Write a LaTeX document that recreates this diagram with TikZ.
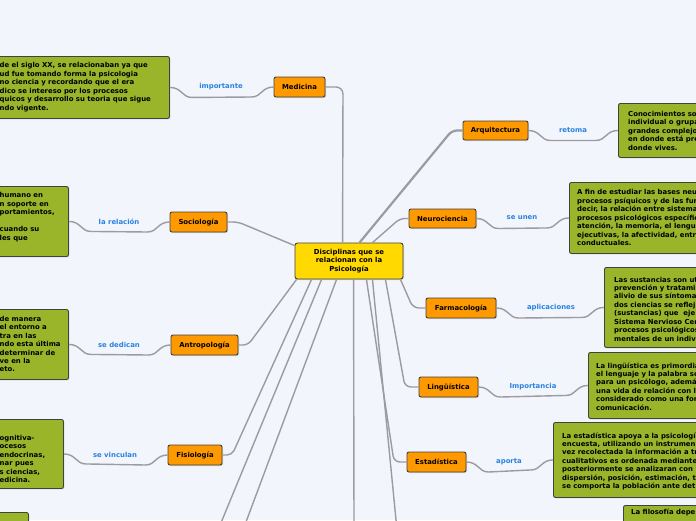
\documentclass[tikz,border=0pt]{standalone}
\usepackage{fontspec}
\setmainfont{DejaVu Sans}
\usetikzlibrary{calc,shadows}
\definecolor{bgcol}{RGB}{242,245,252}
\definecolor{conncol}{RGB}{155,155,160}
\definecolor{orangecol}{RGB}{255,153,0}
\definecolor{greencol}{RGB}{154,181,42}
\definecolor{yellowcol}{RGB}{255,217,0}
\definecolor{bordercol}{RGB}{65,65,65}
\definecolor{labelcol}{RGB}{40,130,225}
\newcommand\dfont{\fontsize{6.9}{8.4}\selectfont\bfseries}
\tikzset{
  shad/.style={drop shadow={shadow xshift=1pt,shadow yshift=-1pt,opacity=0.3}},
  onode/.style={draw=bordercol, line width=0.9pt, fill=orangecol, rounded corners=2pt, inner sep=0pt, font=\dfont, shad},
  cnode/.style={draw=bordercol, line width=0.9pt, fill=yellowcol, rounded corners=2.5pt, inner sep=0pt, align=center, font=\dfont, shad},
  gbox/.style={draw=bordercol, line width=0.9pt, fill=greencol, rounded corners=2pt, inner sep=0pt, anchor=north west, shad},
  gtext/.style={anchor=base west, inner sep=0pt, font=\dfont},
  lbl/.style={text=labelcol, inner sep=0pt, font=\dfont},
  conn/.style={draw=conncol, line width=1.4pt},
}
\newcommand\sconn[2]{\draw[conn] (#1) .. controls +(12,0) and +(-10,0) .. ($(#1)+(22,10)$) -- ($(#2)+(-22,10)$) .. controls +(10,0) and +(-12,0) .. (#2);}
\newcommand\textblock[4]{\foreach \txt [count=\i from 0] in {#4} {\node[gtext] (#1\i) at (#2,{#3+8.45*\i}) {\txt};}}
\begin{document}
\begin{tikzpicture}[x=1pt,y=-1pt]
\useasboundingbox (0,0) rectangle (696,520);
\fill[bgcol] (0,0) rectangle (696,520);
\clip (0,0) rectangle (696,520);

% central
\node[cnode, minimum width=108pt, minimum height=36pt] (cen) at (349,261) {Disciplinas que se\\relacionan con la\\Psicología};

% orange nodes
\node[onode, minimum width=51pt, minimum height=20pt] (med) at (299.5,87) {Medicina};
\node[onode, minimum width=65pt, minimum height=19pt] (arq) at (495.5,130.5) {Arquitectura};
\node[onode, minimum width=67pt, minimum height=19pt] (neu) at (442.5,218.5) {Neurociencia};
\node[onode, minimum width=70pt, minimum height=20pt] (far) at (461,308) {Farmacología};
\node[onode, minimum width=59pt, minimum height=20pt] (ling) at (448.5,387) {Lingüística};
\node[onode, minimum width=59pt, minimum height=20pt] (est) at (436.5,462) {Estadística};
\node[onode, minimum width=57pt, minimum height=20pt] (soc) at (198.5,222) {Sociología};
\node[onode, minimum width=67pt, minimum height=20pt] (ant) at (204.5,345) {Antropología};
\node[onode, minimum width=54pt, minimum height=20pt] (fis) at (195,455) {Fisiología};

% green boxes
\node[gbox, minimum width=179pt, minimum height=62pt] (gmed) at (-10,56) {};
\node[gbox, minimum width=78pt, minimum height=70pt] (gsoc) at (-10,186) {};
\node[gbox, minimum width=78pt, minimum height=70pt] (gant) at (-10,309) {};
\node[gbox, minimum width=73pt, minimum height=69pt] (gfis) at (-10,419) {};
\node[gbox, minimum width=38pt, minimum height=30pt] (gbl) at (-10,512) {};
\node[gbox, minimum width=110pt, minimum height=54pt] (garq) at (618,103) {};
\node[gbox, minimum width=150pt, minimum height=71pt] (gneu) at (569,182) {};
\node[gbox, minimum width=120pt, minimum height=80pt] (gfar) at (604,267) {};
\node[gbox, minimum width=130pt, minimum height=66pt] (gling) at (588,352) {};
\node[gbox, minimum width=170pt, minimum height=75pt] (gest) at (553,422) {};
\node[gbox, minimum width=100pt, minimum height=40pt] (gfil) at (623,505) {};

% texts
\textblock{tmed}{-0.5}{67.9}{{de el siglo XX, se relacionaban ya que},{ud fue tomando forma la psicologia},{no ciencia y recordando que el era},{dico se intereso por los procesos},{quicos y desarrollo su teoria que sigue},{ndo vigente.}}
\textblock{tsoc}{-0.5}{197.9}{{humano en},{n soporte en},{portamientos,},{},{cuando su},{les que}}
\textblock{tant}{-0.5}{321.2}{{de manera},{el entorno a},{tra en las},{ndo esta última},{determinar de},{ve en la},{eto.}}
\textblock{tfis}{-0.5}{440.2}{{ognitiva-},{ocesos},{endocrinas,},{nar pues},{s ciencias,},{edicina.}}
\textblock{tarq}{628}{116.5}{{Conocimientos so},{individual o grupa},{grandes complejos},{en donde está pre},{donde vives.}}
\textblock{tneu}{577}{194.8}{{A fin de estudiar las bases neu},{procesos psíquicos y de las fun},{decir, la relación entre sistema},{procesos psicológicos específic},{atención, la memoria, el lengu},{ejecutivas, la afectividad, entr},{conductuales.}}
\textblock{tfar}{614}{282}{{Las sustancias son ut},{prevención y tratami},{alivio de sus síntoma},{dos ciencias se reflej},{(sustancias) que \ eje},{Sistema Nervioso Cer},{procesos psicológicos},{mentales de un indiv}}
\textblock{tling}{596}{368}{{La lingüística es primordia},{el lenguaje y la palabra so},{para un psicólogo, además},{una vida de relación con l},{considerado como una for},{comunicación.}}
\textblock{test}{562}{438}{{La estadística apoya a la psicologí},{encuesta, utilizando un instrumen},{vez recolectada la información a tr},{cualitativos es ordenada mediante},{posteriormente se analizaran con},{dispersión, posición, estimación, t},{se comporta la población ante det}}
\textblock{tfil}{631}{514.5}{{La filosofía depe}}

% labelled connectors
\sconn{gmed.east}{med.west}
\sconn{gsoc.east}{soc.west}
\sconn{gant.east}{ant.west}
\sconn{gfis.east}{fis.west}
\sconn{arq.east}{garq.west}
\sconn{neu.east}{gneu.west}
\sconn{far.east}{gfar.west}
\sconn{ling.east}{gling.west}
\sconn{est.east}{gest.west}

\node[lbl] (lmed) at (221,87) {importante};
\node[lbl] (lsoc) at (119,222) {la relación};
\node[lbl] (lant) at (119,345) {se dedican};
\node[lbl] (lfis) at (115,455) {se vinculan};
\node[lbl] (larq) at (573,130) {retoma};
\node[lbl] (lneu) at (522,218) {se unen};
\node[lbl] (lfar) at (551,308) {aplicaciones};
\node[lbl] (lling) at (533,387) {Importancia};
\node[lbl] (lest) at (509,462) {aporta};

% central connectors
\draw[conn,rounded corners=7pt] ([xshift=48pt]cen.north west) -- (343,87) -- (med.east);
\draw[conn,line width=2.2pt,rounded corners=5pt] ([xshift=65pt]cen.north west) -- (452,130.5) -- (arq.west);
\draw[conn,rounded corners=5pt] ([xshift=78pt]cen.north west) -- (400,218.5) -- (neu.west);
\draw[conn,rounded corners=6pt] ([xshift=-3pt]cen.south east) -- (413,308) -- (far.west);
\draw[conn,rounded corners=6pt] ([xshift=-18pt]cen.south east) -- (405,387) -- (ling.west);
\draw[conn,rounded corners=6pt] ([xshift=-37pt]cen.south east) -- (394,462) -- (est.west);
\draw[conn,rounded corners=5pt] ([yshift=-3pt]cen.north west) -- (238,222) -- (soc.east);
\draw[conn,rounded corners=5pt] ([xshift=2pt]cen.south west) -- (248,345) -- (ant.east);
\draw[conn,rounded corners=5pt] ([xshift=17pt]cen.south west) -- (232,455) -- (fis.east);

\coordinate (e1) at (218,530);
\coordinate (e2) at (243,530);
\coordinate (e3) at (354,530);
\coordinate (e4) at (397,530);
\draw[conn] ([xshift=27pt]cen.south west) -- (e1);
\draw[conn] ([xshift=42pt]cen.south west) -- (e2);
\draw[conn] ([xshift=59pt]cen.south west) -- (e3);
\draw[conn] ([xshift=-31pt]cen.south east) -- (e4);
\end{tikzpicture}
\end{document}
